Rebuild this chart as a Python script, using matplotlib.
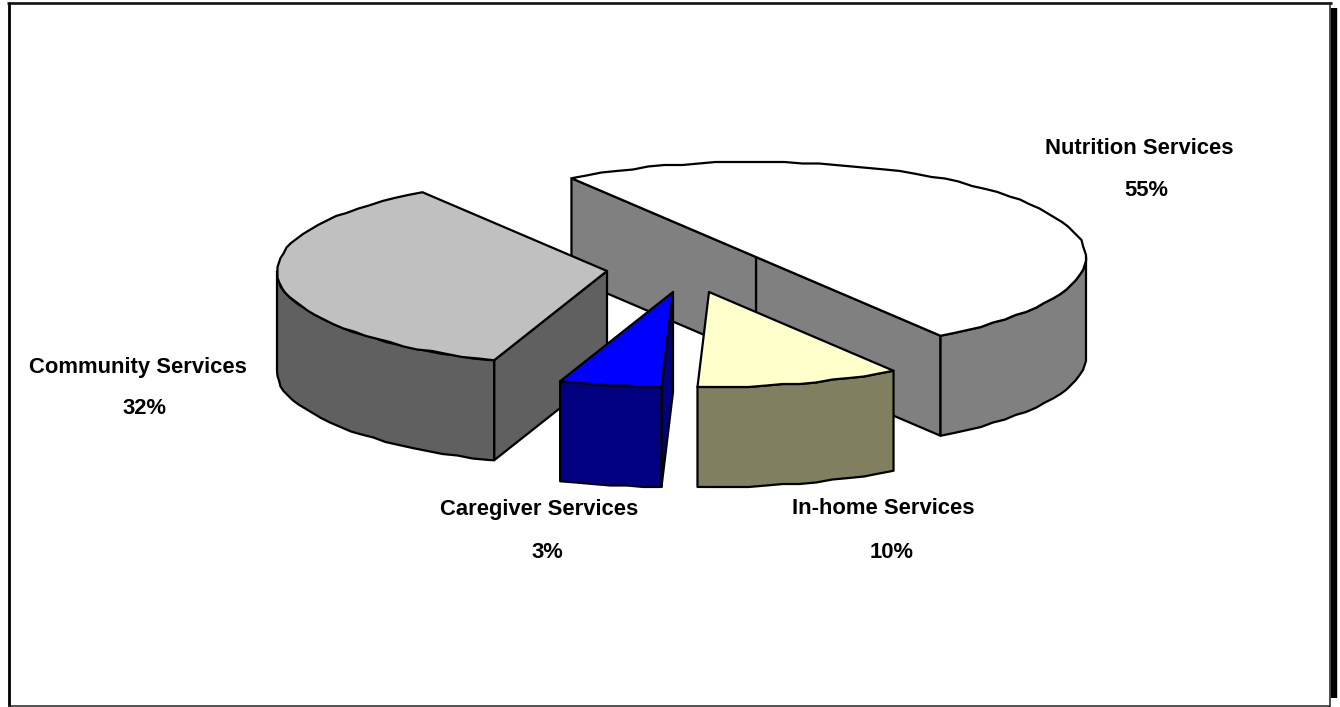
import numpy as np
import matplotlib
matplotlib.use('Agg')
import matplotlib.pyplot as plt
from matplotlib.patches import Polygon

# slices in drawing order, back to front
names = ['Nutrition Services', 'Community Services', 'Caregiver Services', 'In-home Services']
pct_labels = ['55%', '32%', '3%', '10%']
# the drawn angles do not follow the printed percentages, so read them off the picture
sweep_deg = [180, 126, 18, 36]
top_colors = ['#FFFFFF', '#C0C0C0', '#0000FF', '#FFFFCC']
wall_colors = ['#808080', '#606060', '#000080', '#808060']

START_DEG = -56
RX, RY, DEPTH = 330, 95, 100
# slice centres after explosion, pixels
centres = [(756, 257), (607, 271), (673, 292), (709, 292)]
# label anchor: name centre x, name y, percent centre x, percent y
label_pos = [(1139, 148, 1146, 190), (138, 368, 145, 409), (539, 510, 547, 553), (883, 509, 892, 552)]


def arc(cx, cy, t0, t1):
    # rough edge like the old office renderer, points snapped to a coarse grid
    t = np.radians(np.arange(t0, t1, 3.0))
    t = np.append(t, np.radians(t1))
    x = cx + RX * np.cos(t)
    y = cy - RY * np.sin(t)
    x[1:-1] = np.round(x[1:-1] / 1.5) * 1.5
    y[1:-1] = np.round(y[1:-1] / 1.5) * 1.5
    return np.column_stack([x, y])


def draw_slice(ax, centre, t0, t1, top, wall):
    cx, cy = centre
    edge = arc(cx, cy, t0, t1)
    down = np.array([0, DEPTH])
    c = np.array([cx, cy], dtype=float)

    # cut faces, only those turned towards the viewer
    if np.sin(np.radians(t0 - 90)) < 0:
        ax.add_patch(Polygon([c, edge[0], edge[0] + down, c + down], fc=wall, ec='k', lw=1.6, joinstyle='round'))
    if np.sin(np.radians(t1 + 90)) < 0:
        ax.add_patch(Polygon([c, edge[-1], edge[-1] + down, c + down], fc=wall, ec='k', lw=1.6, joinstyle='round'))

    # outer wall on the front half of the ellipse
    for a, b in [(t0, min(t1, 0)), (max(t0, 180), min(t1, 360))]:
        if b > a:
            front = arc(cx, cy, a, b)
            ax.add_patch(Polygon(np.vstack([front, front[::-1] + down]), fc=wall, ec='k', lw=1.6, joinstyle='round'))

    ax.add_patch(Polygon(np.vstack([c, edge]), fc=top, ec='k', lw=1.6, joinstyle='round'))


fig = plt.figure(figsize=(13.4, 7.07), dpi=100)
ax = fig.add_axes([0, 0, 1, 1])
ax.set_xlim(0, 1340)
ax.set_ylim(707, 0)
ax.axis('off')

# chart frame
ax.plot([8.5, 8.5], [2, 707], color='k', lw=2.0, solid_capstyle='butt')
ax.plot([7, 1332], [3, 3], color='#111111', lw=1.9, solid_capstyle='butt')
ax.plot([8, 1330], [706, 706], color='#222222', lw=1.1, solid_capstyle='butt')
ax.plot([1330, 1330], [2, 707], color='#222222', lw=1.1, solid_capstyle='butt')
ax.plot([1333.5, 1333.5], [8, 698], color='k', lw=4.6, solid_capstyle='butt')

t = START_DEG
for i in range(len(names)):
    draw_slice(ax, centres[i], t, t + sweep_deg[i], top_colors[i], wall_colors[i])
    t += sweep_deg[i]

for name, pct, (nx, ny, px, py) in zip(names, pct_labels, label_pos):
    ax.text(nx, ny, name, ha='center', va='center', fontsize=15.8, family='Liberation Sans', weight='bold')
    ax.text(px, py, pct, ha='center', va='center', fontsize=15.8, family='Liberation Sans', weight='bold')

fig.savefig('out.png', dpi=100)
